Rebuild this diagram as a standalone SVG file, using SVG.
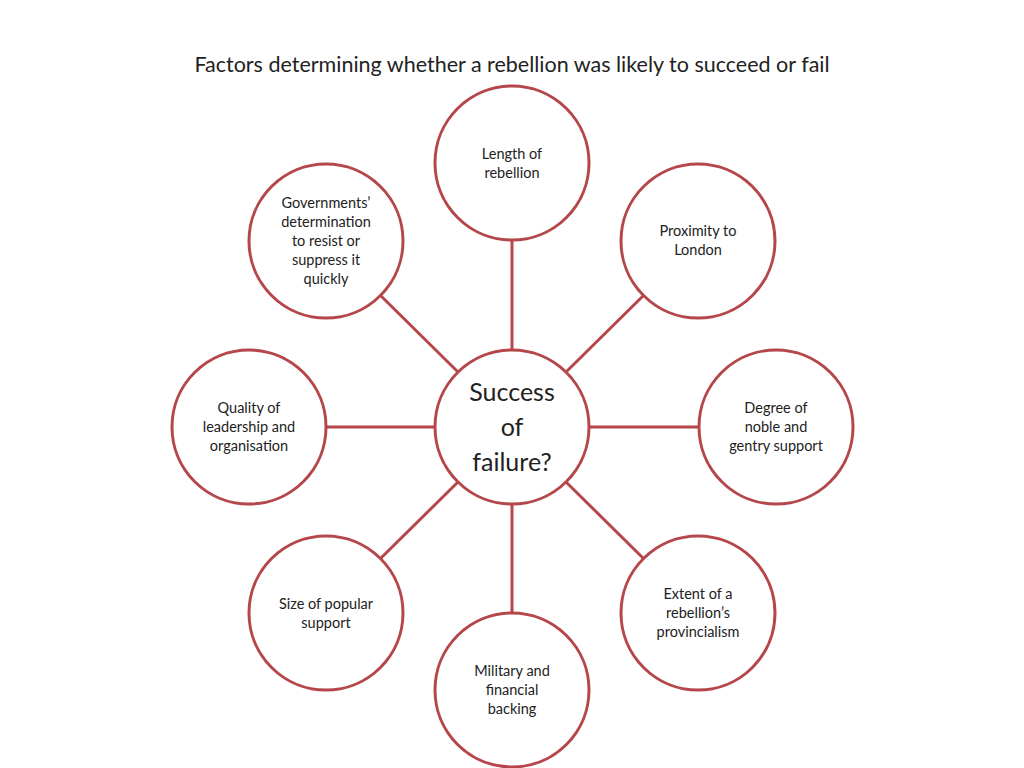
<svg xmlns="http://www.w3.org/2000/svg" width="1024" height="768" viewBox="0 0 1024 768">
<style>
circle{fill:#fff;stroke:#b5474b;stroke-width:3}
line{stroke:#b5474b;stroke-width:3}
text{font-family:Lato,"Open Sans",sans-serif;font-size:14.5px;fill:#222;text-anchor:middle}
.t{font-size:21.5px}
.c{font-size:25px}
</style>
<rect width="1024" height="768" fill="#fff"/>
<text class="t" x="512" y="72">Factors determining whether a rebellion was likely to succeed or fail</text>
<g id="connectors">
<line x1="512" y1="350" x2="512" y2="240"/>
<line x1="566" y1="372" x2="643" y2="296"/>
<line x1="589" y1="427" x2="699" y2="427"/>
<line x1="566" y1="482" x2="643" y2="558"/>
<line x1="512" y1="504" x2="512" y2="613"/>
<line x1="458" y1="482" x2="381" y2="558"/>
<line x1="435" y1="427" x2="326" y2="427"/>
<line x1="458" y1="372" x2="381" y2="296"/>
</g>
<g id="center"><circle cx="512" cy="427" r="77"/><text class="c" x="512" y="401">Success</text><text class="c" x="512" y="436">of</text><text class="c" x="512" y="471">failure?</text></g>
<g id="n1"><circle cx="512" cy="163" r="77"/><text x="512" y="159">Length of</text><text x="512" y="178">rebellion</text></g>
<g id="n2"><circle cx="698" cy="241" r="77"/><text x="698" y="236">Proximity to</text><text x="698" y="255">London</text></g>
<g id="n3"><circle cx="776" cy="427" r="77"/><text x="776" y="413">Degree of</text><text x="776" y="432">noble and</text><text x="776" y="451">gentry support</text></g>
<g id="n4"><circle cx="698" cy="613" r="77"/><text x="698" y="599">Extent of a</text><text x="698" y="618">rebellion’s</text><text x="698" y="637">provincialism</text></g>
<g id="n5"><circle cx="512" cy="690" r="77"/><text x="512" y="676">Military and</text><text x="512" y="695">financial</text><text x="512" y="714">backing</text></g>
<g id="n6"><circle cx="326" cy="613" r="77"/><text x="326" y="609">Size of popular</text><text x="326" y="628">support</text></g>
<g id="n7"><circle cx="249" cy="427" r="77"/><text x="249" y="413">Quality of</text><text x="249" y="432">leadership and</text><text x="249" y="451">organisation</text></g>
<g id="n8"><circle cx="326" cy="241" r="77"/><text x="326" y="208">Governments’</text><text x="326" y="227">determination</text><text x="326" y="246">to resist or</text><text x="326" y="265">suppress it</text><text x="326" y="284">quickly</text></g>
</svg>
